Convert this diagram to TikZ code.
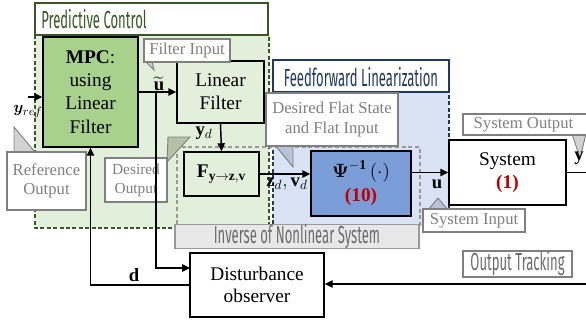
\documentclass[tikz,border=0pt]{standalone}
\usepackage{amsmath}
\usepackage{amssymb}
\usepackage{bm}
\usepackage{fontspec}
\setmainfont{Liberation Serif}
\newfontfamily\condfont[FakeStretch=0.53]{Fira Sans}
\usetikzlibrary{arrows.meta}

\definecolor{pcgreen}{RGB}{56,87,35}
\definecolor{pcfill}{RGB}{226,239,218}
\definecolor{mpcfill}{RGB}{169,209,142}
\definecolor{ffblue}{RGB}{31,56,100}
\definecolor{fffill}{RGB}{218,227,243}
\definecolor{psifill}{RGB}{122,157,216}
\definecolor{cgray}{RGB}{128,128,128}
\definecolor{eqred}{RGB}{192,0,0}

\tikzset{
  blk/.style={draw=black,line width=1.1pt,align=center,inner sep=0pt,font=\fontsize{14.5}{17}\selectfont},
  callout/.style={draw=cgray,line width=1.2pt,fill=white,text=cgray,align=center,inner sep=0pt,font=\fontsize{12.5}{14.5}\selectfont},
  tail/.style={draw=cgray,line width=0.7pt},
  sig/.style={line width=1.1pt,-{Triangle[length=6pt,width=5.5pt]}},
  lbl/.style={inner sep=0.75pt,font=\fontsize{14}{16}\selectfont},
  ttl/.style={inner sep=0pt,font=\condfont\fontsize{18.5}{20}\selectfont},
}

\begin{document}
\begin{tikzpicture}[x=0.75pt,y=0.75pt,yscale=-1,xscale=1]
\useasboundingbox (0,0) rectangle (586,329);

%Shape: Rectangle [predictive control region]
\draw [draw=pcgreen,fill=pcfill,line width=1.2pt,dash pattern={on 3pt off 1.8pt}] (35,35) rectangle (269,228) ;
%Shape: Rectangle [feedforward region]
\draw [draw=ffblue,fill=fffill,line width=1.1pt,dash pattern={on 3pt off 1.8pt}] (273,92) rectangle (449,225) ;
%Shape: Rectangle [titles]
\draw [draw=pcgreen,fill=white,line width=1.3pt] (35,3) rectangle (268,35) ;
\draw [draw=ffblue,fill=white,line width=1.3pt] (273,60) rectangle (449,92) ;
\node [ttl,text=pcgreen,anchor=west] (pctitle) at (41,19) {Predictive Control};
\node [ttl,text=ffblue] (fftitle) at (361,77) {Feedforward Linearization};
%Shape: Rectangle [inverse of nonlinear system]
\draw [draw=cgray!80,line width=1pt,dash pattern={on 3pt off 2pt}] (177,147) rectangle (420,225) ;
\node [ttl,draw=cgray!80,fill=gray!18,text=gray!85!black,line width=1pt,minimum width=183pt,minimum height=17.25pt] (invtitle) at (297,236.5) {Inverse of Nonlinear System};

% Blocks
\node [blk,fill=mpcfill,minimum width=71.25pt,minimum height=82.5pt,font=\fontsize{14.5}{17.5}\selectfont] (mpc) at (90.5,92) {\textbf{MPC}:\\using\\Linear\\Filter};
\node [blk,fill=pcfill,minimum width=65.25pt,minimum height=46.5pt] (filt) at (220.5,92) {Linear\\Filter};
\node [blk,fill=pcfill,minimum width=56.25pt,minimum height=33pt] (fmap) at (221.5,174) {$\mathbf{F}_{\mathbf{y}\to\mathbf{z},\mathbf{v}}$};
\node [blk,fill=psifill,minimum width=75pt,minimum height=48.75pt] (psi) at (361,183.5) {$\boldsymbol{\Psi}^{\mathbf{-1}}\,(\cdot)$\\[1pt]\textcolor{eqred}{\textbf{(10)}}};
\node [blk,fill=white,minimum width=87.75pt,minimum height=48.75pt] (sys) at (507.5,172.5) {System\\\textcolor{eqred}{\textbf{(1)}}};
\node [blk,fill=white,minimum width=100.5pt,minimum height=48pt] (dob) at (257,285) {Disturbance\\observer};

% Callouts
\filldraw [tail,fill=gray!35] (14,127) -- (14,152) -- (35,152) -- cycle ;
\node [callout,minimum width=59.25pt,minimum height=43.5pt] (refout) at (46.5,181) {Reference\\Output};
\filldraw [tail,fill=gray!40] (145,61) -- (152,61) -- (154,70) -- cycle ;
\node [callout,minimum width=64.5pt,minimum height=17.25pt] (filtin) at (187,50.5) {Filter Input};
\filldraw [tail,fill={rgb,255:red,180;green,193;blue,166}] (167,162) -- (168,137) -- (190,137) -- cycle ;
\node [callout,minimum width=46.5pt,minimum height=33pt,font=\fontsize{11.5}{14}\selectfont] (desout) at (136,180) {Desired\\Output};
\filldraw [tail,fill={rgb,255:red,184;green,195;blue,214}] (275,145) -- (293,145) -- (293,167) -- cycle ;
\node [callout,minimum width=99pt,minimum height=39.75pt] (flatin) at (332,119.5) {Desired Flat State\\and Flat Input};
\filldraw [tail,fill=gray!35] (572,134) -- (586,134) -- (580,158) -- cycle ;
\node [callout,minimum width=96.75pt,minimum height=15.75pt] (sysout) at (527.5,124.5) {System Output\hspace{6pt}};
\filldraw [tail,fill={rgb,255:red,184;green,195;blue,214}] (428,210) -- (448,210) -- (438,198) -- cycle ;
\node [callout,minimum width=76.5pt,minimum height=17.25pt] (sysin) at (474,220.5) {System Input};
\node [callout,ttl,text=gray!85!black,minimum width=81.75pt,minimum height=19.5pt] (track) at (517.5,264) {Output Tracking};

% Signals
\coordinate (yref) at (28,97);
\coordinate (br) at (156,92);
\coordinate (dobin) at (190,268);
\coordinate (yend) at (586,172);
\coordinate (fbin) at (586,284);
\draw [sig] (yref) -- (yref -| mpc.west) ;
\draw [sig] (mpc.east) -- (filt.west) ;
\draw [sig] (br) |- (dobin) ;
\draw [sig] (filt.south) -- (fmap.north) ;
\draw [sig] (fmap.east) -- (fmap.east -| psi.west) ;
\draw [sig] (psi.east |- sys.west) -- (sys.west) ;
\draw [line width=1.1pt] (sys.east) -- (sys.east -| yend) ;
\draw [sig] (fbin) -- (fbin -| dob.east) ;
\draw [sig] (dob.west) -| (mpc.south) ;

% Text Node
\node [lbl,font=\fontsize{13}{15}\selectfont] (lyref) at (28,112) {$\boldsymbol{y}_{ref}$};
% Text Node
\node [lbl] (lut) at (159,84) {$\widetilde{\mathbf{u}}$};
% Text Node
\node [lbl] (lyd) at (204,133) {$\mathbf{y}_{d}$};
% Text Node
\node [lbl] (lzv) at (287,184) {$\mathbf{z}_{d},\mathbf{v}_{d}$};
% Text Node
\node [lbl] (lu) at (437,184) {$\mathbf{u}$};
% Text Node
\node [lbl] (ly) at (579,158) {$\mathbf{y}$};
% Text Node
\node [lbl] (ld) at (134,275) {$\mathbf{d}$};

\end{tikzpicture}
\end{document}
